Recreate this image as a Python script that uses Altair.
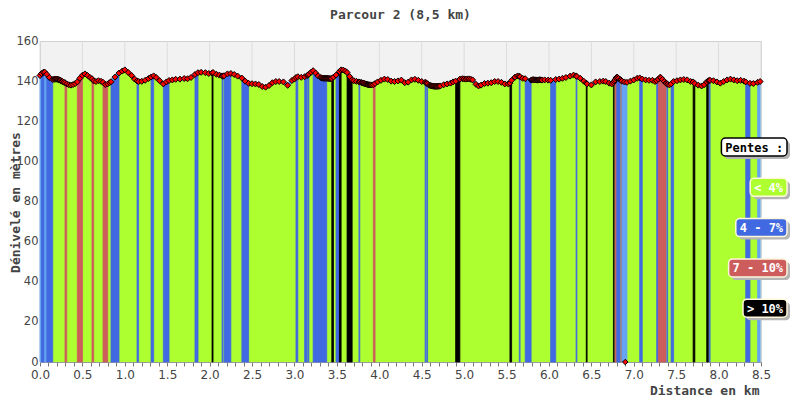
import altair as alt
import pandas as pd

# ---------------- data ----------------
DIST = [
    0.000, 0.018, 0.040, 0.055, 0.080, 0.110, 0.150,
    0.165, 0.175, 0.185, 0.195, 0.205, 0.215, 0.225, 0.235, 0.245, 0.255, 0.265,
    0.280, 0.295, 0.315, 0.340, 0.365, 0.390, 0.415, 0.440, 0.470, 0.500,
    0.530, 0.560, 0.590, 0.613, 0.633, 0.660, 0.690, 0.720, 0.743, 0.770, 0.798,
    0.820, 0.837, 0.884, 0.931, 0.970,
    1.000, 1.040, 1.080, 1.115, 1.144, 1.163, 1.200, 1.240, 1.280, 1.309, 1.340,
    1.370, 1.410, 1.454, 1.490, 1.521, 1.560, 1.600, 1.650, 1.700, 1.740, 1.780,
    1.827, 1.863, 1.900, 1.950, 1.990,
    2.028, 2.040, 2.080, 2.115, 2.146, 2.157, 2.170, 2.210, 2.250, 2.290, 2.330,
    2.380, 2.420, 2.460, 2.500, 2.540, 2.580, 2.620, 2.660, 2.700, 2.740, 2.780,
    2.820, 2.870, 2.920, 2.970,
    3.000, 3.018, 3.040, 3.080, 3.120, 3.150, 3.160, 3.170, 3.195, 3.220, 3.250,
    3.280, 3.310, 3.320, 3.330, 3.340, 3.350, 3.360, 3.370, 3.380, 3.390, 3.400,
    3.410, 3.420, 3.430, 3.440, 3.460, 3.490, 3.530, 3.550, 3.575, 3.600, 3.620,
    3.650, 3.680, 3.700, 3.730, 3.760, 3.770, 3.790, 3.800, 3.810, 3.820, 3.830,
    3.840, 3.850, 3.860, 3.870, 3.880, 3.890, 3.900, 3.910, 3.930, 3.950, 3.980,
    4.020, 4.060, 4.100, 4.140, 4.180, 4.220, 4.260, 4.300, 4.340, 4.380, 4.420,
    4.460, 4.500, 4.540, 4.550, 4.560, 4.570, 4.590, 4.600, 4.610, 4.620, 4.630,
    4.640, 4.650, 4.660, 4.670, 4.680, 4.690, 4.700, 4.710, 4.720, 4.760, 4.800,
    4.840, 4.870, 4.900, 4.950, 4.980,
    5.000, 5.020, 5.040, 5.060, 5.080, 5.100, 5.140, 5.170, 5.200, 5.240, 5.280,
    5.320, 5.360, 5.400, 5.440, 5.480, 5.520, 5.540, 5.560, 5.600, 5.630, 5.650,
    5.660, 5.690, 5.720, 5.790, 5.800, 5.810, 5.820, 5.830, 5.840, 5.850, 5.860,
    5.870, 5.880, 5.890, 5.900, 5.910, 5.920, 5.950, 5.990,
    6.020, 6.080, 6.120, 6.160, 6.200, 6.250, 6.290, 6.320, 6.330, 6.370, 6.410,
    6.440, 6.450, 6.500, 6.550, 6.600, 6.640, 6.670, 6.710, 6.740, 6.760, 6.770,
    6.780, 6.790, 6.800, 6.810, 6.820, 6.840, 6.850, 6.860, 6.890, 6.920, 6.960,
    7.000, 7.040, 7.070, 7.100, 7.140, 7.180, 7.220, 7.250, 7.270, 7.290, 7.310,
    7.320, 7.340, 7.360, 7.380, 7.390, 7.400, 7.420, 7.440, 7.470, 7.510, 7.550,
    7.590, 7.630, 7.670, 7.700, 7.720, 7.760, 7.800, 7.830, 7.860, 7.880, 7.890,
    7.900, 7.940, 7.980,
    8.020, 8.060, 8.100, 8.140, 8.180, 8.220, 8.260, 8.300, 8.320, 8.370, 8.410,
    8.460, 8.490,
]

ELEV = [
    142.8, 143.8, 144.4, 144.5, 143.4, 141.8, 140.8,
    140.9, 141.0, 141.0, 141.0, 140.9, 140.8, 140.7, 140.5, 140.3, 140.0, 139.8,
    139.5, 139.2, 138.6, 138.2, 138.0, 138.3, 138.8, 139.6, 141.4, 142.9,
    143.6, 142.8, 141.8, 141.2, 140.1, 139.8, 140.2, 139.9, 139.4, 138.3, 138.6,
    139.2, 139.7, 142.0, 144.0, 145.0,
    145.6, 144.3, 142.8, 141.0, 140.1, 139.8, 139.9, 140.4, 141.3, 142.0, 142.6,
    141.8, 140.2, 138.6, 139.6, 140.3, 140.6, 140.9, 141.0, 141.3, 141.2, 141.8,
    143.3, 144.2, 144.4, 144.2, 143.8,
    144.0, 144.3, 143.4, 143.0, 142.6, 142.4, 142.7, 143.6, 143.8, 143.3, 142.5,
    141.5, 140.0, 138.9, 138.7, 138.6, 138.3, 137.3, 137.0, 137.8, 139.2, 139.8,
    139.8, 139.6, 137.9, 140.3,
    141.0, 141.8, 142.2, 141.9, 142.2, 142.8, 143.1, 143.4, 144.4, 145.2, 144.0,
    142.6, 141.8, 141.6, 141.5, 141.4, 141.4, 141.5, 141.4, 141.4, 141.4, 141.3,
    141.3, 141.2, 141.2, 141.3, 142.0, 143.0, 144.8, 145.6, 145.5, 145.0, 144.3,
    142.3, 140.6, 140.2, 139.9, 139.6, 139.5, 139.3, 139.1, 139.0, 138.9, 138.7,
    138.6, 138.5, 138.3, 138.2, 138.2, 138.1, 138.1, 138.1, 138.2, 138.8, 139.6,
    140.4, 141.0, 140.8, 140.0, 139.8, 140.1, 140.5, 139.2, 139.5, 140.6, 140.9,
    140.4, 139.8, 139.4, 139.2, 138.9, 138.6, 138.0, 137.8, 137.7, 137.6, 137.5,
    137.5, 137.4, 137.4, 137.4, 137.4, 137.4, 137.5, 137.5, 137.6, 138.2, 138.6,
    139.0, 139.6, 140.0, 141.0, 141.2,
    141.1, 141.0, 141.1, 141.1, 140.9, 140.6, 138.4, 137.6, 138.0, 138.8, 139.0,
    139.2, 139.8, 139.8, 139.4, 138.6, 138.6, 139.0, 140.4, 142.0, 142.6, 142.4,
    142.2, 141.4, 141.2, 140.5, 140.6, 140.7, 140.7, 140.6, 140.6, 140.6, 140.5,
    140.5, 140.6, 140.7, 140.6, 140.6, 140.5, 140.6, 140.5,
    140.4, 140.8, 141.0, 141.4, 141.8, 142.5, 143.0, 142.6, 142.3, 141.4, 140.0,
    139.0, 138.6, 138.1, 139.6, 139.8, 140.0, 139.8, 139.0, 138.6, 139.2, 140.0,
    140.6, 141.5, 142.0, 141.8, 141.4, 140.8, 140.5, 140.0, 139.6, 139.4, 140.0,
    140.6, 141.4, 141.6, 141.0, 140.6, 140.4, 140.4, 139.8, 140.2, 141.0, 141.9,
    141.7, 140.8, 139.8, 139.0, 138.8, 138.4, 138.1, 138.6, 139.8, 140.2, 140.6,
    140.8, 140.6, 139.8, 139.6, 138.8, 138.0, 137.6, 138.2, 139.6, 140.2, 140.3,
    140.4, 140.2, 139.6,
    139.0, 139.8, 140.6, 141.0, 140.6, 140.2, 140.4, 140.0, 139.6, 138.9, 138.8,
    139.4, 139.8,
]

# slope bands (segments of the profile), start / end in km, class
BAND_START = [
    0.000, 0.018, 0.055, 0.080, 0.295, 0.440, 0.613, 0.743, 0.837, 1.144,
    1.309, 1.454, 1.827, 2.028, 2.146, 2.170, 2.380, 3.018, 3.120, 3.160,
    3.220, 3.440, 3.490, 3.530, 3.620, 3.760, 3.930, 4.540, 4.560, 4.900,
    5.540, 5.650, 5.720, 6.020, 6.320, 6.440, 6.760, 6.780, 6.800, 6.850,
    6.860, 7.070, 7.270, 7.290, 7.390, 7.440, 7.700, 7.860, 7.890, 8.320,
    8.460,
]
BAND_END = [
    0.018, 0.055, 0.080, 0.150, 0.315, 0.500, 0.633, 0.798, 0.931, 1.163,
    1.340, 1.521, 1.863, 2.040, 2.157, 2.250, 2.460, 3.040, 3.150, 3.170,
    3.380, 3.460, 3.530, 3.550, 3.680, 3.770, 3.950, 4.550, 4.570, 4.950,
    5.560, 5.660, 5.790, 6.080, 6.330, 6.450, 6.770, 6.800, 6.840, 6.860,
    6.920, 7.100, 7.290, 7.380, 7.400, 7.470, 7.720, 7.880, 7.900, 8.370,
    8.490,
]
BAND_CLASS = [
    "-", "4 - 7%", "-", "4 - 7%", "7 - 10%", "7 - 10%", "7 - 10%", "7 - 10%", "4 - 7%", "4 - 7%",
    "4 - 7%", "4 - 7%", "4 - 7%", "> 10%", "4 - 7%", "4 - 7%", "4 - 7%", "4 - 7%", "4 - 7%", "4 - 7%",
    "4 - 7%", "> 10%", "4 - 7%", "> 10%", "> 10%", "4 - 7%", "7 - 10%", "4 - 7%", "4 - 7%", "> 10%",
    "> 10%", "4 - 7%", "4 - 7%", "4 - 7%", "4 - 7%", "> 10%", "> 10%", "7 - 10%", "4 - 7%", "7 - 10%",
    "-", "4 - 7%", "4 - 7%", "7 - 10%", "4 - 7%", "4 - 7%", "> 10%", "> 10%", "4 - 7%", "4 - 7%",
    "-",
]

# stray point plotted at ground level
OUTLIER_DIST = [6.90]
OUTLIER_ELEV = [0.0]

X_LABELS = [0.0, 0.5, 1.0, 1.5, 2.0, 2.5, 3.0, 3.5, 4.0, 4.5, 5.0, 5.5, 6.0, 6.5, 7.0, 7.5, 8.0, 8.5]
X_TICKS = [round(i / 10, 1) for i in range(86)]
Y_LABELS = [0, 20, 40, 60, 80, 100, 120, 140, 160]

LEGEND_TITLE = "Pentes :"
LEGEND_LABELS = ["< 4%", "4 - 7%", "7 - 10%", "> 10%"]
CLASS_NAMES = ["< 4%", "4 - 7%", "7 - 10%", "> 10%", "-"]
CLASS_COLORS = ["#adff2f", "#4169e1", "#cd5c5c", "#000000", "#64a2f2"]

TITLE = "Parcour 2 (8,5 km)"
X_TITLE = "Distance en km"
Y_TITLE = "Dénivelé en mètres"

# ---------------- tables ----------------
W, H = 721, 321
MONO = "DejaVu Sans Mono"
SANS = "DejaVu Sans"
LINE_COLOR = "#64a2f2"

profile = pd.DataFrame({"d": DIST, "e": ELEV})

rows = []
for k, (s, t, c) in enumerate(zip(BAND_START, BAND_END, BAND_CLASS)):
    for d, e in zip(DIST, ELEV):
        if s - 1e-9 <= d <= t + 1e-9:
            rows.append({"seg": k, "d": d, "e": e, "cls": c})
bands = pd.DataFrame(rows)

grid = pd.DataFrame({"d": X_LABELS})
outliers = pd.DataFrame({"d": OUTLIER_DIST, "e": OUTLIER_ELEV})

x_enc = alt.X(
    "d:Q",
    scale=alt.Scale(domain=[0, 8.5], nice=False, zero=False),
    axis=alt.Axis(
        values=X_TICKS,
        labelExpr="round(datum.value * 10) % 5 === 0 ? format(datum.value, '.1f') : ''",
        labelOverlap=False,
        labelFlush=False,
        labelFont=SANS,
        labelFontSize=12,
        labelColor="#444444",
        labelPadding=3,
        tickSize=4,
        tickColor="#777777",
        domainColor="#999999",
        grid=False,
        title=X_TITLE,
        titleFont=MONO,
        titleFontSize=13,
        titleFontWeight="bold",
        titleColor="#444444",
        titleAlign="right",
        titleBaseline="middle",
        titleX=719,
        titleY=28,
    ),
)
y_enc = alt.Y(
    "e:Q",
    stack=None,
    scale=alt.Scale(domain=[0, 160], nice=False),
    axis=alt.Axis(
        values=Y_LABELS,
        ticks=False,
        domain=False,
        grid=False,
        labelFont=SANS,
        labelFontSize=11.5,
        labelColor="#444444",
        labelPadding=2,
        title=Y_TITLE,
        titleFont=MONO,
        titleFontSize=13,
        titleFontWeight="bold",
        titleColor="#444444",
        titleAngle=270,
        titleAlign="center",
        titleBaseline="middle",
        titleX=-25,
        titleY=161,
    ),
)

class_scale = alt.Scale(domain=CLASS_NAMES, range=CLASS_COLORS)

grid_layer = alt.Chart(grid).mark_rule(color="#dcdcdc", strokeWidth=1).encode(x=x_enc)

base_area = alt.Chart(profile).mark_area(color=CLASS_COLORS[0], interpolate="linear").encode(
    x=x_enc, y=y_enc
)

band_area = alt.Chart(bands).mark_area(interpolate="linear", strokeWidth=0.8).encode(
    x=x_enc,
    y=y_enc,
    detail="seg:N",
    color=alt.Color("cls:N", scale=class_scale, legend=None),
    stroke=alt.Stroke("cls:N", scale=class_scale, legend=None),
)

line = alt.Chart(profile).mark_line(color=LINE_COLOR, strokeWidth=3).encode(x=x_enc, y=y_enc)

points = alt.Chart(profile).mark_point(
    shape="diamond", filled=True, size=36, fill="#ff0000", stroke="#000000",
    strokeWidth=1, opacity=1
).encode(x=x_enc, y=y_enc)

outlier_pts = alt.Chart(outliers).mark_point(
    shape="diamond", filled=True, size=30, fill="#ff0000", stroke="#000000",
    strokeWidth=1, opacity=1
).encode(x=x_enc, y=y_enc)

# ---------------- custom legend boxes (right side) ----------------
legend_layers = []
items = [(LEGEND_TITLE, "#ffffff", "#000000", "#000000")] + [
    (lab, CLASS_COLORS[i], "#fff8dc", "#ffffff") for i, lab in enumerate(LEGEND_LABELS)
]
RIGHT = 747
for i, (lab, fill, border, tcol) in enumerate(items):
    y0 = 97 + 40.3 * i
    y1 = y0 + 18
    wbox = 7.2 * len(lab) + 8
    x0 = RIGHT - wbox
    src = pd.DataFrame({"label": [lab]})
    shadow = alt.Chart(src).mark_rect(cornerRadius=4, color="#b4b4b4").encode(
        x=alt.value(x0 + 3), x2=alt.value(RIGHT + 3), y=alt.value(y0 + 3), y2=alt.value(y1 + 3)
    )
    box = alt.Chart(src).mark_rect(
        cornerRadius=4, fill=fill, stroke=border, strokeWidth=1.5
    ).encode(x=alt.value(x0), x2=alt.value(RIGHT), y=alt.value(y0), y2=alt.value(y1))
    txt = alt.Chart(src).mark_text(
        font=MONO, fontSize=12, fontWeight="bold", color=tcol, align="center", baseline="middle"
    ).encode(x=alt.value((x0 + RIGHT) / 2), y=alt.value((y0 + y1) / 2 + 0.5), text="label:N")
    legend_layers += [shadow, box, txt]

chart = alt.layer(
    grid_layer, base_area, band_area, line, points, outlier_pts, *legend_layers
).properties(
    width=W,
    height=H,
    padding={"left": 32, "top": 33, "right": 31, "bottom": 36},
    autosize=alt.AutoSizeParams(type="none"),
    title=alt.TitleParams(
        TITLE, anchor="middle", font=MONO, fontSize=13, fontWeight="bold",
        color="#444444", offset=13
    ),
).configure_view(
    fill="#f2f2f2", stroke="#d0d0d0"
)

chart.save("out.html", embed_options={"renderer": "svg", "actions": False})
